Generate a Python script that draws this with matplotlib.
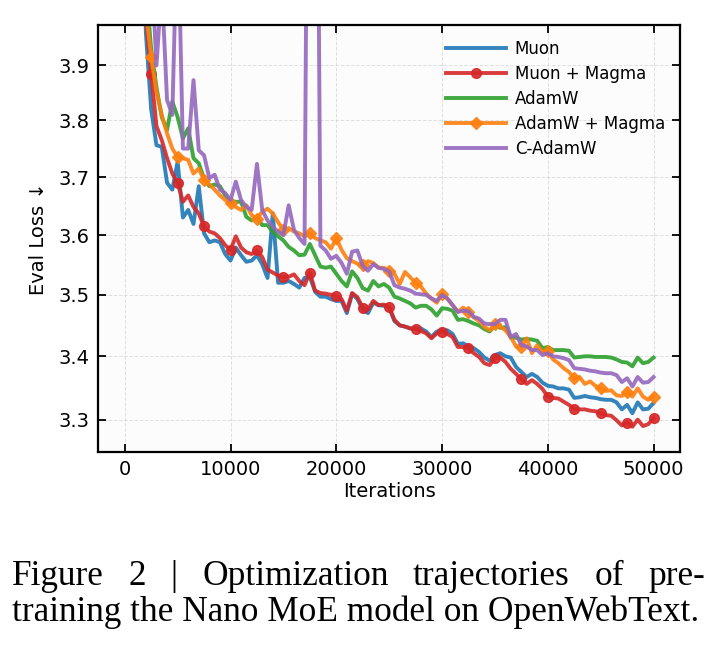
import matplotlib
matplotlib.use("Agg")
import matplotlib.pyplot as plt
from matplotlib.ticker import FixedLocator, FormatStrFormatter, NullLocator

# eval loss every 500 iterations, 0 .. 50000
iterations = list(range(0, 50001, 500))

muon = [
    10.9, 6.8, 5.2, 4.35, 3.96, 3.82, 3.756, 3.753, 3.69, 3.678,
    3.727, 3.63, 3.643, 3.619, 3.684, 3.603, 3.588, 3.591, 3.588, 3.568,
    3.557, 3.579, 3.566, 3.555, 3.557, 3.566, 3.551, 3.528, 3.637, 3.52,
    3.52, 3.523, 3.518, 3.512, 3.528, 3.53, 3.505, 3.497, 3.497, 3.493,
    3.49, 3.49, 3.47, 3.502, 3.493, 3.476, 3.47, 3.487, 3.483, 3.482,
    3.479, 3.457, 3.45, 3.448, 3.445, 3.445, 3.445, 3.44, 3.431, 3.44,
    3.442, 3.442, 3.436, 3.42, 3.421, 3.416, 3.413, 3.407, 3.398, 3.393,
    3.402, 3.405, 3.40, 3.398, 3.383, 3.375, 3.367, 3.372, 3.367, 3.358,
    3.353, 3.352, 3.349, 3.349, 3.347, 3.334, 3.335, 3.337, 3.335, 3.334,
    3.332, 3.331, 3.331, 3.327, 3.316, 3.323, 3.31, 3.327, 3.316, 3.317,
    3.326,
]

muon_magma = [
    10.9, 6.8, 5.3, 4.4, 3.99, 3.885, 3.79, 3.765, 3.733, 3.706,
    3.69, 3.657, 3.668, 3.648, 3.637, 3.615, 3.606, 3.603, 3.595, 3.583,
    3.575, 3.598, 3.579, 3.571, 3.568, 3.574, 3.563, 3.542, 3.537, 3.532,
    3.529, 3.53, 3.534, 3.523, 3.516, 3.537, 3.507, 3.503, 3.502, 3.5,
    3.498, 3.493, 3.474, 3.503, 3.496, 3.479, 3.476, 3.49, 3.483, 3.484,
    3.48, 3.459, 3.45, 3.448, 3.445, 3.444, 3.441, 3.437, 3.429, 3.437,
    3.44, 3.436, 3.431, 3.415, 3.415, 3.413, 3.405, 3.399, 3.389, 3.386,
    3.397, 3.398, 3.391, 3.38, 3.372, 3.364, 3.356, 3.362, 3.356, 3.348,
    3.336, 3.334, 3.333, 3.328, 3.323, 3.317, 3.316, 3.316, 3.314, 3.313,
    3.31, 3.307, 3.306, 3.299, 3.291, 3.295, 3.289, 3.3, 3.29, 3.293,
    3.302,
]

adamw = [
    10.9, 7.0, 5.4, 4.5, 4.05, 3.93, 3.86, 3.806, 3.783, 3.834,
    3.806, 3.768, 3.786, 3.733, 3.724, 3.697, 3.684, 3.687, 3.684, 3.668,
    3.658, 3.657, 3.657, 3.631, 3.625, 3.631, 3.617, 3.617, 3.606, 3.598,
    3.591, 3.58, 3.574, 3.566, 3.567, 3.585, 3.566, 3.547, 3.545, 3.547,
    3.535, 3.523, 3.514, 3.539, 3.528, 3.511, 3.507, 3.523, 3.514, 3.518,
    3.512, 3.497, 3.494, 3.49, 3.486, 3.479, 3.482, 3.482, 3.476, 3.466,
    3.478, 3.477, 3.474, 3.459, 3.46, 3.457, 3.453, 3.45, 3.444, 3.44,
    3.45, 3.446, 3.447, 3.43, 3.43, 3.427, 3.428, 3.427, 3.425, 3.413,
    3.415, 3.41, 3.41, 3.41, 3.409, 3.398, 3.399, 3.4, 3.4, 3.399,
    3.399, 3.399, 3.398, 3.395, 3.391, 3.39, 3.384, 3.398, 3.389, 3.391,
    3.398,
]

adamw_magma = [
    10.9, 7.0, 5.3, 4.4, 4.0, 3.915, 3.852, 3.81, 3.777, 3.75,
    3.735, 3.733, 3.73, 3.706, 3.715, 3.694, 3.687, 3.678, 3.668, 3.66,
    3.655, 3.648, 3.643, 3.651, 3.634, 3.628, 3.64, 3.645, 3.637, 3.622,
    3.609, 3.612, 3.606, 3.603, 3.598, 3.603, 3.595, 3.591, 3.588, 3.577,
    3.595, 3.575, 3.561, 3.556, 3.552, 3.549, 3.556, 3.553, 3.545, 3.545,
    3.54, 3.535, 3.518, 3.538, 3.529, 3.52, 3.514, 3.502, 3.494, 3.487,
    3.502, 3.494, 3.483, 3.472, 3.479, 3.472, 3.463, 3.457, 3.448, 3.442,
    3.452, 3.448, 3.442, 3.431, 3.416, 3.415, 3.429, 3.405, 3.418, 3.407,
    3.409, 3.395, 3.389, 3.381, 3.375, 3.365, 3.367, 3.356, 3.36, 3.353,
    3.349, 3.345, 3.346, 3.338, 3.337, 3.344, 3.336, 3.349, 3.336, 3.331,
    3.336,
]

c_adamw = [
    10.9, 7.2, 5.6, 4.7, 4.2, 4.1, 3.90, 4.05, 3.837, 3.81,
    4.2, 3.75, 3.75, 3.873, 3.747, 3.738, 3.698, 3.704, 3.678, 3.672,
    3.66, 3.692, 3.66, 3.648, 3.643, 3.723, 3.643, 3.625, 3.614, 3.606,
    3.6, 3.651, 3.609, 3.595, 3.585, 5.2, 5.2, 3.582, 3.574, 3.56,
    3.565, 3.553, 3.535, 3.572, 3.574, 3.548, 3.54, 3.551, 3.545, 3.543,
    3.539, 3.516, 3.512, 3.51, 3.507, 3.502, 3.501, 3.5, 3.494, 3.49,
    3.5, 3.494, 3.483, 3.472, 3.474, 3.473, 3.464, 3.461, 3.453, 3.452,
    3.452, 3.459, 3.459, 3.431, 3.436, 3.418, 3.416, 3.41, 3.41, 3.402,
    3.405, 3.4, 3.399, 3.397, 3.394, 3.381, 3.38, 3.379, 3.377, 3.376,
    3.374, 3.373, 3.373, 3.37, 3.359, 3.365, 3.352, 3.367, 3.358, 3.359,
    3.367,
]

yticks = [3.3, 3.4, 3.5, 3.6, 3.7, 3.8, 3.9]
xticks = [0, 10000, 20000, 30000, 40000, 50000]

caption_line1 = ["Figure", "2", "|", "Optimization", "trajectories", "of", "pre-"]
caption_line2 = "training the Nano MoE model on OpenWebText."

W, H = 719, 647
fig = plt.figure(figsize=(W / 100, H / 100), dpi=100)
ax = fig.add_axes([98.3 / W, 1 - 452 / H, (680 - 98.3) / W, (452 - 25) / H])
ax.set_facecolor("#fcfcfc")

series = [
    ("Muon", muon, "#1f77b4", None, 0),
    ("Muon + Magma", muon_magma, "#d62728", "o", 7),
    ("AdamW", adamw, "#2ca02c", None, 0),
    ("AdamW + Magma", adamw_magma, "#ff7f0e", "D", 6.5),
    ("C-AdamW", c_adamw, "#9467bd", None, 0),
]
for label, vals, color, marker, ms in series:
    ax.plot(iterations, vals, color=color, lw=2.8, alpha=0.9, label=label,
            marker=marker, markersize=ms, markevery=5)

ax.set_yscale("log")
ax.set_ylim(3.25, 3.975)
ax.set_xlim(-2500, 52500)
ax.yaxis.set_major_locator(FixedLocator(yticks))
ax.yaxis.set_major_formatter(FormatStrFormatter("%.1f"))
ax.yaxis.set_minor_locator(NullLocator())
ax.set_xticks(xticks)
ax.set_xticklabels([str(t) for t in xticks])

ax.tick_params(direction="in", top=True, right=True, length=6, width=1.3,
               labelsize=14, pad=6)
for sp in ax.spines.values():
    sp.set_linewidth(1.6)
ax.grid(True, ls="--", lw=0.7, color="#cccccc", alpha=0.6)

ax.set_xlabel("Iterations", fontsize=14, labelpad=2)
ax.set_ylabel("Eval Loss \u2193", fontsize=14, labelpad=8)

ax.legend(loc="upper right", frameon=False, fontsize=12, handlelength=3.6,
          handletextpad=0.5, labelspacing=0.42, borderaxespad=0.5)

# caption below the plot, first line justified
renderer = fig.canvas.get_renderer()
serif = "Liberation Serif"


def width_of(s, size):
    t = fig.text(0, 0, s, fontsize=size, family=serif)
    w = t.get_window_extent(renderer).width
    t.remove()
    return w


size = 22 * 685 / width_of(caption_line2, 22)
left, right = 12, 705
widths = [width_of(w, size) for w in caption_line1]
gap = (right - left - sum(widths)) / (len(caption_line1) - 1)
x = left
for word, w in zip(caption_line1, widths):
    fig.text(x / W, 1 - 585 / H, word, fontsize=size, family=serif, va="baseline")
    x += w + gap
fig.text(left / W, 1 - 621 / H, caption_line2, fontsize=size, family=serif, va="baseline")

fig.savefig("out.png", dpi=100)
